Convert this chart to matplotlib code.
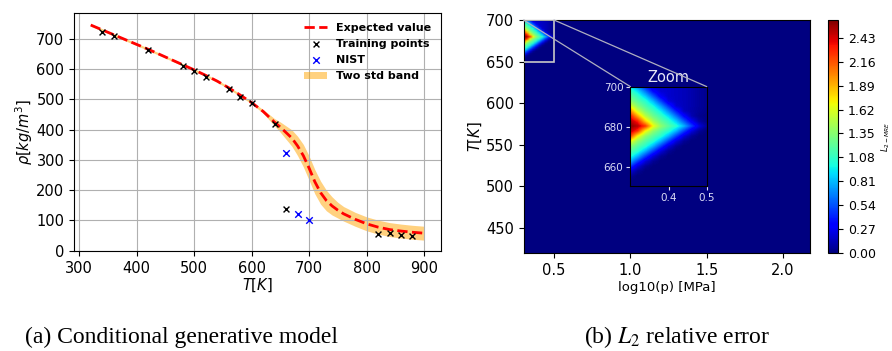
import numpy as np
import matplotlib
matplotlib.use("Agg")
import matplotlib.pyplot as plt
from matplotlib.patches import Rectangle, ConnectionPatch

# --- (a) density vs temperature ---
T_curve = [320, 340, 360, 380, 400, 420, 440, 460, 480, 500, 520, 540, 560, 580,
           600, 620, 640, 650, 660, 670, 680, 690, 700, 710, 720, 730, 740, 750,
           760, 780, 800, 820, 840, 860, 880, 900]
rho_mean = [745, 729, 713, 697, 681, 665, 648, 631, 614, 597, 579, 560, 538, 514,
            489, 460, 424, 408, 390, 372, 346, 314, 273, 228, 192, 166, 148, 134,
            122, 104, 89, 78, 70, 65, 61, 58]
rho_2std = [4, 4, 4, 4, 4, 4, 4, 4, 4, 4, 4, 4, 4, 4,
            4, 6, 12, 17, 22, 27, 32, 37, 40, 40, 38, 34, 30, 26,
            24, 23, 23, 23, 23, 23, 23, 23]

T_train = [340, 360, 420, 480, 500, 520, 560, 580, 600, 640, 660, 820, 840, 860, 880]
rho_train = [723, 709, 663, 610, 593, 574, 535, 509, 486, 418, 139, 55, 57, 53, 48]

T_nist = [660, 680, 700]
rho_nist = [323, 121, 100]

# --- (b) L2 relative error, zoom region (rest of the domain is ~0) ---
logp_grid = [0.30, 0.32, 0.34, 0.36, 0.38, 0.40, 0.42, 0.44, 0.46, 0.48, 0.50]
T_grid = [650, 652.5, 655, 657.5, 660, 662.5, 665, 667.5, 670, 672.5, 675, 677.5,
          680, 682.5, 685, 687.5, 690, 692.5, 695, 697.5, 700]
err = [
    [0, 0, 0, 0, 0, 0, 0, 0, 0, 0, 0],
    [0, 0, 0, 0, 0, 0, 0, 0, 0, 0, 0],
    [0.06, 0, 0, 0, 0, 0, 0, 0, 0, 0, 0],
    [0.22, 0.06, 0, 0, 0, 0, 0, 0, 0, 0, 0],
    [0.50, 0.22, 0.06, 0, 0, 0, 0, 0, 0, 0, 0],
    [0.80, 0.50, 0.22, 0.06, 0, 0, 0, 0, 0, 0, 0],
    [1.05, 0.80, 0.50, 0.22, 0.06, 0, 0, 0, 0, 0, 0],
    [1.20, 1.05, 0.80, 0.50, 0.22, 0.06, 0, 0, 0, 0, 0],
    [1.38, 1.20, 1.05, 0.80, 0.50, 0.22, 0.06, 0, 0, 0, 0],
    [1.70, 1.38, 1.20, 1.05, 0.80, 0.50, 0.22, 0.06, 0, 0, 0],
    [2.25, 1.70, 1.38, 1.20, 1.05, 0.80, 0.50, 0.22, 0.06, 0, 0],
    [2.50, 2.25, 1.70, 1.38, 1.20, 1.05, 0.80, 0.50, 0.22, 0.06, 0],
    [2.60, 2.50, 2.25, 1.70, 1.38, 1.20, 1.05, 0.80, 0.50, 0.22, 0.06],
    [2.52, 2.30, 1.81, 1.45, 1.24, 1.08, 0.85, 0.56, 0.28, 0.09, 0.02],
    [2.35, 1.92, 1.51, 1.27, 1.11, 0.90, 0.62, 0.33, 0.12, 0.04, 0.02],
    [2.03, 1.58, 1.31, 1.14, 0.95, 0.68, 0.39, 0.15, 0.10, 0.06, 0.03],
    [1.64, 1.35, 1.17, 1.00, 0.74, 0.45, 0.19, 0.14, 0.11, 0.07, 0.04],
    [1.38, 1.20, 1.05, 0.80, 0.50, 0.22, 0.16, 0.14, 0.11, 0.07, 0.04],
    [1.24, 1.08, 0.85, 0.56, 0.28, 0.18, 0.16, 0.14, 0.11, 0.07, 0.04],
    [1.11, 0.90, 0.62, 0.33, 0.20, 0.18, 0.16, 0.14, 0.11, 0.07, 0.04],
    [0.95, 0.68, 0.39, 0.22, 0.20, 0.18, 0.16, 0.14, 0.11, 0.07, 0.04],
]
cbar_ticks = [0.00, 0.27, 0.54, 0.81, 1.08, 1.35, 1.62, 1.89, 2.16, 2.43]
err_max = 2.63

fig = plt.figure(figsize=(8.92, 3.51), dpi=100)

# left panel
ax1 = fig.add_axes([0.083, 0.285, 0.411, 0.678])
ax1.fill_between(T_curve, np.array(rho_mean) - np.array(rho_2std),
                 np.array(rho_mean) + np.array(rho_2std),
                 color="orange", alpha=0.5, lw=0, label="Two std band")
ax1.plot(T_curve, rho_mean, "r--", lw=2, label="Expected value")
ax1.scatter(T_train, rho_train, marker="x", color="k", s=18, lw=1,
            label="Training points", zorder=3)
ax1.scatter(T_nist, rho_nist, marker="x", color="b", s=22, lw=1,
            label="NIST", zorder=3)
ax1.grid(True)
ax1.set_xticks([300, 400, 500, 600, 700, 800, 900])
ax1.set_yticks([0, 100, 200, 300, 400, 500, 600, 700])
ax1.tick_params(labelsize=10.5)
ax1.set_xlabel(r"$T[K]$", fontsize=10.5, labelpad=1)
ax1.set_ylabel(r"$\rho[kg/m^3]$", fontsize=10.5, labelpad=1)
h, l = ax1.get_legend_handles_labels()
order = [l.index(s) for s in ["Expected value", "Training points", "NIST", "Two std band"]]
ax1.legend([h[i] for i in order], [l[i] for i in order], loc="upper right",
           frameon=False, prop={"weight": "bold", "size": 8}, labelspacing=0.55)

# right panel
cmap = plt.cm.jet
dx = (logp_grid[1] - logp_grid[0]) / 2
dy = (T_grid[1] - T_grid[0]) / 2
ext = [logp_grid[0] - dx, logp_grid[-1] + dx, T_grid[0] - dy, T_grid[-1] + dy]

ax2 = fig.add_axes([0.587, 0.279, 0.321, 0.664])
ax2.set_facecolor(cmap(0.0))
im = ax2.imshow(err, origin="lower", extent=ext, aspect="auto", cmap=cmap,
                vmin=0, vmax=err_max, interpolation="bilinear")
ax2.set_xlim(0.301, 2.176)
ax2.set_ylim(420, 700)
ax2.set_xticks([0.5, 1.0, 1.5, 2.0])
ax2.set_yticks([450, 500, 550, 600, 650, 700])
ax2.tick_params(labelsize=10.5)
ax2.set_xlabel("log10(p) [MPa]", fontsize=9.5, labelpad=2)
ax2.set_ylabel(r"$T[K]$", fontsize=10.5, labelpad=1)

axins = ax2.inset_axes([1.0, 500, 0.5, 120], transform=ax2.transData)
axins.imshow(err, origin="lower", extent=ext, aspect="auto", cmap=cmap,
             vmin=0, vmax=err_max, interpolation="bilinear")
axins.set_xlim(0.3, 0.5)
axins.set_ylim(650, 700)
axins.set_xticks([0.4, 0.5])
axins.set_yticks([660, 680, 700])
axins.tick_params(labelsize=7.5, colors="#dcdcf5", length=3, pad=2)
for s in axins.spines.values():
    s.set_color("k")
axins.set_title("Zoom", color="#e8e8f8", fontsize=10.5, pad=3)

ax2.add_patch(Rectangle((0.3, 650), 0.2, 50, fill=False, ec="#c8c8c8", lw=1.2, zorder=4))
for xa, xb in [(0.3, 0), (0.5, 1)]:
    con = ConnectionPatch(xyA=(xa, 700), coordsA=ax2.transData,
                          xyB=(xb, 1), coordsB=axins.transAxes,
                          color="#b0b0c0", lw=0.9)
    fig.add_artist(con)

cax = fig.add_axes([0.928, 0.279, 0.0115, 0.664])
cb = fig.colorbar(im, cax=cax, ticks=cbar_ticks, format="%.2f")
cb.ax.tick_params(labelsize=9)
cb.set_label(r"$L_{2-MRE}$", fontsize=6, labelpad=3)

# captions
fig.text(0.204, 0.022, "(a) Conditional generative model", ha="center", va="baseline",
         family="Liberation Serif", fontsize=17)
fig.text(0.759, 0.022, r"(b) $L_2$ relative error", ha="center", va="baseline",
         family="Liberation Serif", fontsize=17, math_fontfamily="stix")

fig.savefig("out.png", dpi=100)
